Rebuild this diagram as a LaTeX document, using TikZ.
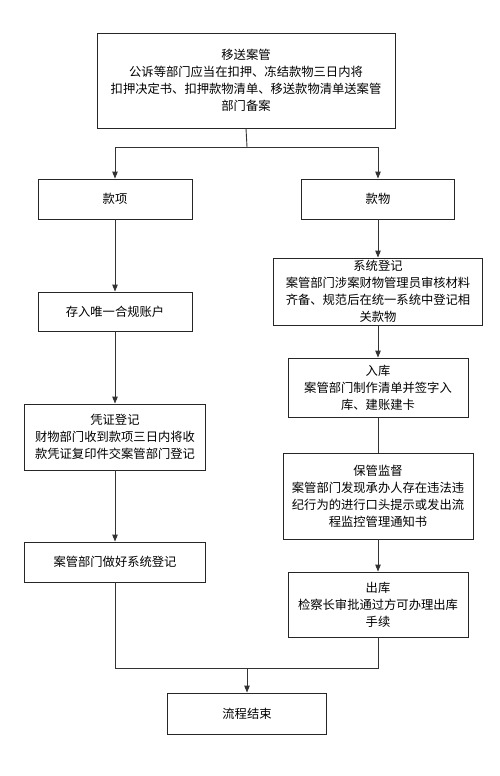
\documentclass[tikz,border=0pt]{standalone}
\usepackage{fontspec}
\newfontfamily\cjk{Noto Sans CJK SC}
\usetikzlibrary{arrows.meta}
\tikzset{
  box/.style={draw=black!85, line width=0.9pt, fill=white, align=center, inner sep=0pt,
    font=\cjk\fontsize{12.3}{17}\selectfont},
  arr/.style={draw=black!80, line width=0.9pt, -{Triangle[length=7pt,width=5.5pt]}},
  ln/.style={draw=black!80, line width=0.9pt}
}
\begin{document}
\begin{tikzpicture}[x=1pt,y=-1pt]
\useasboundingbox (0,0) rectangle (500,776);
\node[box, minimum width=298pt, minimum height=95pt] (top) at (246,80.5)
  {移送案管\\公诉等部门应当在扣押、冻结款物三日内将\\扣押决定书、扣押款物清单、移送款物清单送案管\\部门备案};
\node[box, minimum width=154pt, minimum height=40pt] (kx) at (115,199) {款项};
\node[box, minimum width=153pt, minimum height=40pt] (kw) at (378,199) {款物};
\node[box, minimum width=209pt, minimum height=67pt] (xt) at (378,291.5)
  {系统登记\\案管部门涉案财物管理员审核材料\\齐备、规范后在统一系统中登记相\\关款物};
\node[box, minimum width=154pt, minimum height=39pt] (cr) at (115,311.5) {存入唯一合规账户};
\node[box, minimum width=180pt, minimum height=59pt] (rk) at (378,387.5)
  {入库\\案管部门制作清单并签字入\\库、建账建卡};
\node[box, minimum width=181pt, minimum height=66pt] (pz) at (115,437)
  {凭证登记\\财物部门收到款项三日内将收\\款凭证复印件交案管部门登记};
\node[box, minimum width=190pt, minimum height=86pt] (bg) at (378,496)
  {保管监督\\案管部门发现承办人存在违法违\\纪行为的进行口头提示或发出流\\程监控管理通知书};
\node[box, minimum width=181pt, minimum height=40pt] (xd) at (115,562) {案管部门做好系统登记};
\node[box, minimum width=180pt, minimum height=65pt] (ck) at (378,604.5)
  {出库\\检察长审批通过方可办理出库\\手续};
\node[box, minimum width=159pt, minimum height=41pt] (end) at (247,713.5) {流程结束};
\coordinate (split) at (247,147);
\coordinate (merge) at (247,668);
\draw[ln] (top.south) -- (split);
\draw[arr] (split) -| (kx.north);
\draw[arr] (split) -| (kw.north);
\draw[arr] (kx) -- (cr);
\draw[arr] (cr) -- (pz);
\draw[arr] (pz) -- (xd);
\draw[arr] (kw) -- (xt);
\draw[arr] (xt) -- (rk);
\draw[ln] (rk) -- (bg);
\draw[arr] (bg) -- (ck);
\draw[ln] (xd.south) |- (merge);
\draw[ln] (ck.south) |- (merge);
\draw[arr] (merge) -- (end.north);
\end{tikzpicture}
\end{document}
